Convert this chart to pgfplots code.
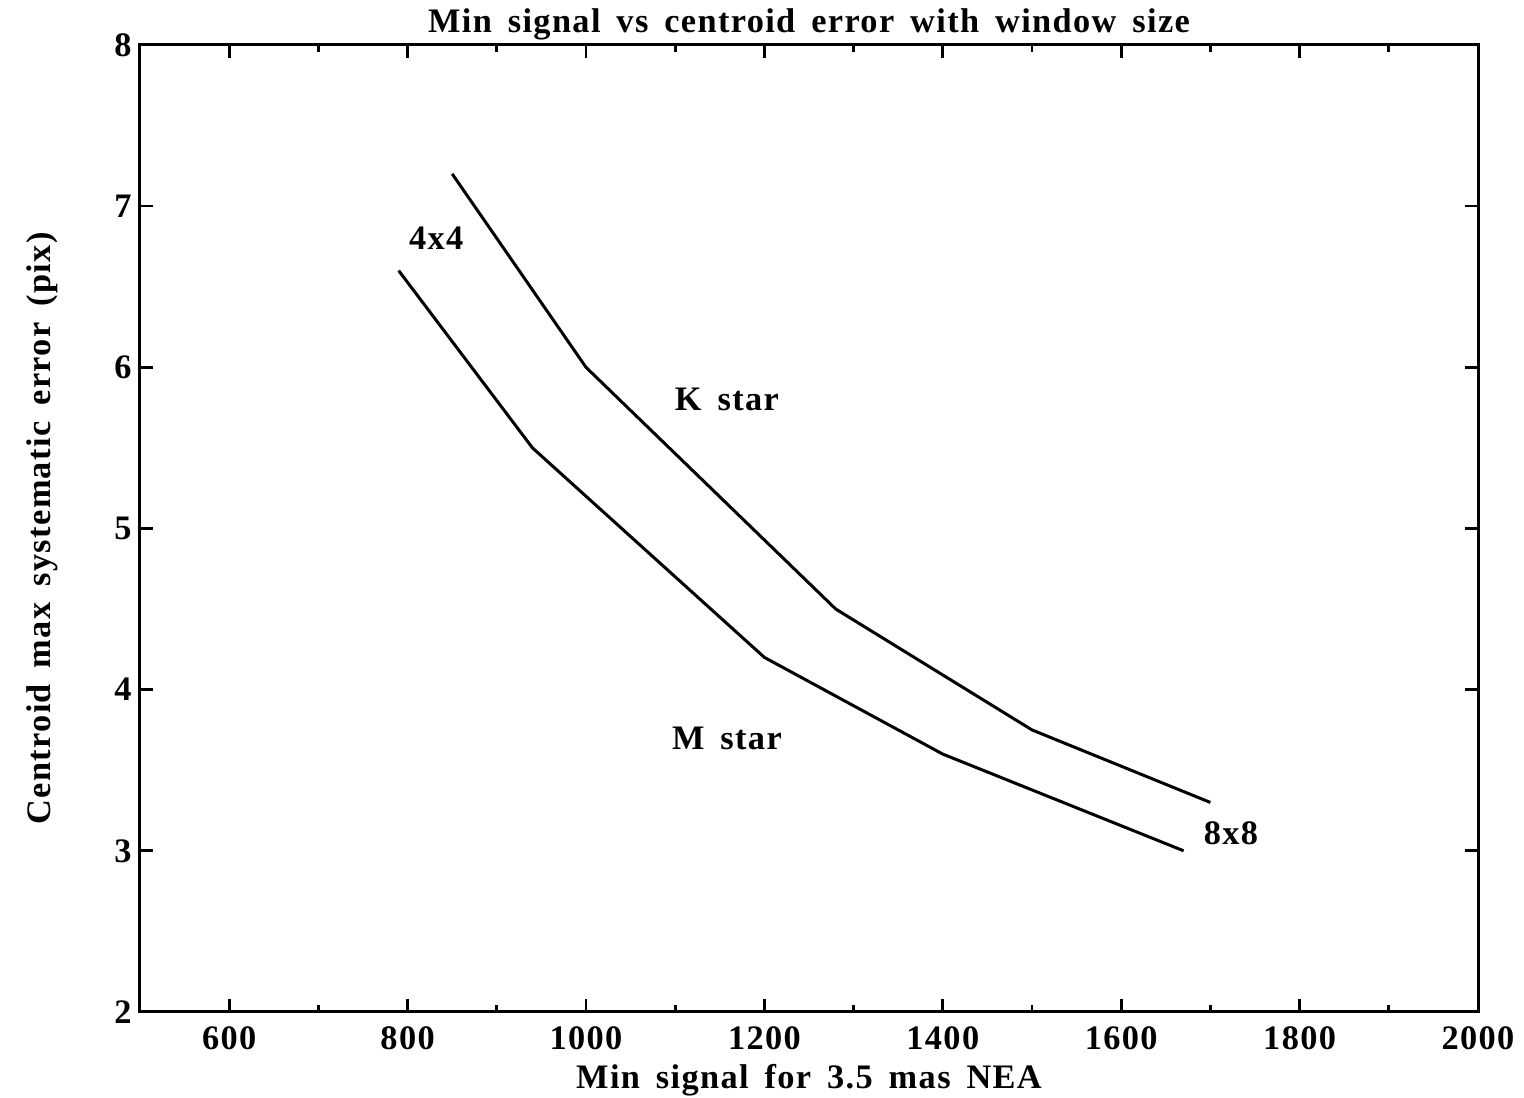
\documentclass[border=0pt]{standalone}
\usepackage{pgfplots}
\pgfplotsset{compat=1.18}
\usepackage{fontspec}
\setmainfont{Liberation Serif}[LetterSpace=4,WordSpace=1.6]
\newcommand{\lblfont}{\fontsize{10.3}{11}\selectfont\bfseries}
\begin{document}
\begin{tikzpicture}
\begin{axis}[
  scale only axis,
  width=401.4pt, height=290.1pt,
  xmin=500, xmax=2000, ymin=2, ymax=8,
  xtick={600,800,...,2000},
  minor xtick={500,700,...,1900},
  ytick={2,3,...,8},
  minor ytick={},
  tick align=inside,
  major tick length=4pt,
  minor tick length=2.2pt,
  every tick/.style={black, line width=0.8pt},
  axis line style={line width=0.9pt},
  tick label style={font=\lblfont},
  /pgf/number format/assume math mode=true,
  /pgf/number format/1000 sep={},
  xticklabel style={yshift=-1pt},
  yticklabel style={xshift=1pt},
  title={Min signal vs centroid error with window size},
  title style={font=\lblfont, yshift=-8pt},
  xlabel={Min signal for 3.5 mas NEA},
  ylabel={Centroid max systematic error (pix)},
  label style={font=\lblfont},
  xlabel style={yshift=2.5pt},
  ylabel style={yshift=10pt},
  clip=false,
]
\addplot[black, line width=0.9pt] coordinates {
  (850,7.2) (1000,6.0) (1280,4.5) (1500,3.75) (1700,3.3)
};
\addplot[black, line width=0.9pt] coordinates {
  (790,6.6) (940,5.5) (1000,5.2) (1200,4.2) (1400,3.6) (1670,3.0)
};
\node[font=\lblfont] at (axis cs:832,6.8) {4x4};
\node[font=\lblfont] at (axis cs:1158,5.8) {K star};
\node[font=\lblfont] at (axis cs:1158,3.7) {M star};
\node[font=\lblfont] at (axis cs:1723,3.11) {8x8};
\end{axis}
\pgfresetboundingbox
\path ([shift={(-42pt,-25.8pt)}]current axis.south west) rectangle ([shift={(13.8pt,13.5pt)}]current axis.north east);
\end{tikzpicture}
\end{document}
